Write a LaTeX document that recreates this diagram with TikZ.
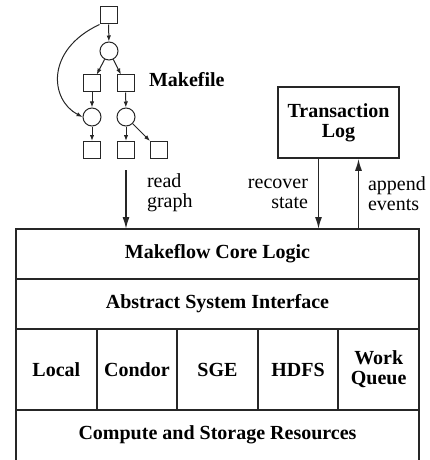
\documentclass[tikz,border=0pt]{standalone}
\usepackage{fontspec}
\setmainfont{Liberation Serif}
\usepackage{tikz}
\usetikzlibrary{arrows.meta,positioning}

\begin{document}
\begin{tikzpicture}[x=0.5pt,y=-0.5pt,
  txt/.style={font=\fontsize{10pt}{10pt}\selectfont},
  sq/.style={draw=black!85,line width=0.5pt,minimum size=8.5pt,inner sep=0pt},
  circ/.style={draw=black!85,line width=0.5pt,circle,minimum size=9pt,inner sep=0pt},
  garr/.style={-{Latex[length=3pt,width=2.2pt]},line width=0.5pt,black!85},
  layer/.style={draw=black!85,line width=1pt,minimum width=201.5pt,minimum height=25pt,
                inner sep=0pt,outer sep=0pt,font=\fontsize{10pt}{10pt}\selectfont\bfseries},
  cell/.style={layer,minimum width=40.3pt,minimum height=40.5pt,align=center},
  arr/.style={-{Latex[length=6pt,width=3.5pt]},line width=0.75pt,black!85}
]
\useasboundingbox (0,0) rectangle (429,460);
% Makefile graph
\node[sq] (t0) at (108.5,15.5) {};
\node[circ] (c1) at (109,51) {};
\node[sq] (s1) at (92,83.5) {};
\node[sq] (s2) at (125.5,83.5) {};
\node[circ] (c2) at (92,117) {};
\node[circ] (c3) at (126,117) {};
\node[sq] (s3) at (92,150) {};
\node[sq] (s4) at (126,150) {};
\node[sq] (s5) at (159,150) {};
\draw[garr] (t0) -- (c1);
\draw[garr] (c1) -- (s1);
\draw[garr] (c1) -- (s2);
\draw[garr] (s1) -- (c2);
\draw[garr] (s2) -- (c3);
\draw[garr] (c2) -- (s3);
\draw[garr] (c3) -- (s4);
\draw[garr] (c3) -- (s5);
\draw[garr] (t0.south west) .. controls (45,50) and (50,100) .. (c2.west);
\node[font=\fontsize{10pt}{10pt}\selectfont\bfseries,anchor=west] (mk) at (142,80) {Makefile};
% Transaction log
\node[draw=black!85,line width=0.75pt,minimum width=60.5pt,minimum height=35.5pt,
      align=center,font=\fontsize{10pt}{10pt}\selectfont\bfseries] (log) at (338.5,122.5)
  {Transaction\\Log};
% Layers
\node[layer] (core) at (217.5,254) {Makeflow Core Logic};
\node[layer,below=0 of core] (asi) {Abstract System Interface};
\node[cell,anchor=north west] (local) at (asi.south west) {Local};
\node[cell,right=0 of local] (condor) {Condor};
\node[cell,right=0 of condor] (sge) {SGE};
\node[cell,right=0 of sge] (hdfs) {HDFS};
\node[cell,right=0 of hdfs] (wq) {Work\\Queue};
\node[layer,draw=none,anchor=north west] (res) at (local.south west) {Compute and Storage Resources};
\draw[black!85,line width=1pt] (res.south west) -- (res.north west) -- (res.north east) -- (res.south east);
% Connectors
\coordinate (rd) at (126,170);
\draw[arr] (rd) -- (rd |- core.north);
\node[txt,anchor=west,align=left] (rdl) at (140,193) {read\\graph};
\draw[arr] ([xshift=-10pt]log.south) -- ([xshift=-10pt]log.south |- core.north);
\draw[arr] ([xshift=10pt]log.south |- core.north) -- ([xshift=10pt]log.south);
\node[txt,anchor=east,align=right] (rcl) at (315,194) {recover\\state};
\node[txt,anchor=west,align=left] (apl) at (361,194) {append\\events};
\end{tikzpicture}
\end{document}
